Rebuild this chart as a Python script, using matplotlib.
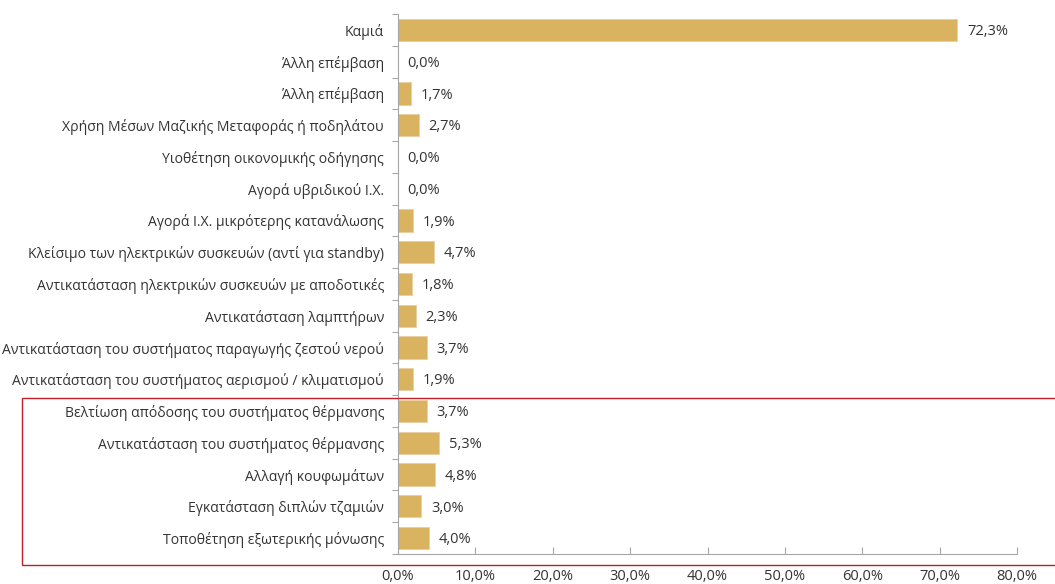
import matplotlib
matplotlib.use("Agg")
import matplotlib.pyplot as plt
from matplotlib.patches import Rectangle
from matplotlib.ticker import FixedLocator, FuncFormatter

categories = [
    "Καμιά",
    "Άλλη επέμβαση",
    "Άλλη επέμβαση",
    "Χρήση Μέσων Μαζικής Μεταφοράς ή ποδηλάτου",
    "Υιοθέτηση οικονομικής οδήγησης",
    "Αγορά υβριδικού Ι.Χ.",
    "Αγορά Ι.Χ. μικρότερης κατανάλωσης",
    "Κλείσιμο των ηλεκτρικών συσκευών (αντί για standby)",
    "Αντικατάσταση ηλεκτρικών συσκευών με αποδοτικές",
    "Αντικατάσταση λαμπτήρων",
    "Αντικατάσταση του συστήματος παραγωγής ζεστού νερού",
    "Αντικατάσταση του συστήματος αερισμού / κλιματισμού",
    "Βελτίωση απόδοσης του συστήματος θέρμανσης",
    "Αντικατάσταση του συστήματος θέρμανσης",
    "Αλλαγή κουφωμάτων",
    "Εγκατάσταση διπλών τζαμιών",
    "Τοποθέτηση εξωτερικής μόνωσης",
]
values = [72.3, 0.0, 1.7, 2.7, 0.0, 0.0, 1.9, 4.7, 1.8, 2.3, 3.7, 1.9, 3.7, 5.3, 4.8, 3.0, 4.0]
x_ticks = [0, 10, 20, 30, 40, 50, 60, 70, 80]

plt.rcParams['font.family'] = ['Open Sans', 'DejaVu Sans']
text_color = '#333333'
axis_color = '#A6A6A6'

fig = plt.figure(figsize=(10.55, 5.84), dpi=100)
ax = fig.add_axes([398/1055, 1-554/584, (1017-398)/1055, (554-14)/584])

n = len(categories)
ypos = list(range(n))
ax.barh(ypos, values, height=0.7, color='#D9B360', edgecolor='#E8CFA0', linewidth=0.6)
ax.set_ylim(n - 0.5, -0.5)
ax.set_xlim(0, 80)

ax.set_yticks(ypos)
ax.set_yticklabels(categories, fontsize=10.1, color=text_color)
ax.yaxis.set_minor_locator(FixedLocator([i - 0.5 for i in range(n + 1)]))
ax.tick_params(axis='y', which='major', length=0, pad=10)
ax.tick_params(axis='y', which='minor', length=4, direction='out', color=axis_color, width=0.8)

ax.set_xticks(x_ticks)
ax.xaxis.set_major_formatter(FuncFormatter(lambda v, p: f"{v:.1f}%".replace('.', ',')))
ax.tick_params(axis='x', which='major', length=5, direction='in', color=axis_color, width=0.8,
               labelsize=10.5, labelcolor=text_color, pad=11)

for s in ['top', 'right']:
    ax.spines[s].set_visible(False)
for s in ['left', 'bottom']:
    ax.spines[s].set_color(axis_color)
    ax.spines[s].set_linewidth(0.8)

for i, v in enumerate(values):
    ax.annotate(f"{v:.1f}%".replace('.', ','), xy=(v, i), xytext=(7, -1.2),
                textcoords='offset points', va='center', ha='left',
                fontsize=10.5, color=text_color)

rect = Rectangle((22/1055, 1-565/584), 1.1, (565-398)/584, transform=fig.transFigure,
                 fill=False, edgecolor='#C0202A', linewidth=1.0, clip_on=False)
fig.patches.append(rect)

fig.savefig("out.png", dpi=100)
